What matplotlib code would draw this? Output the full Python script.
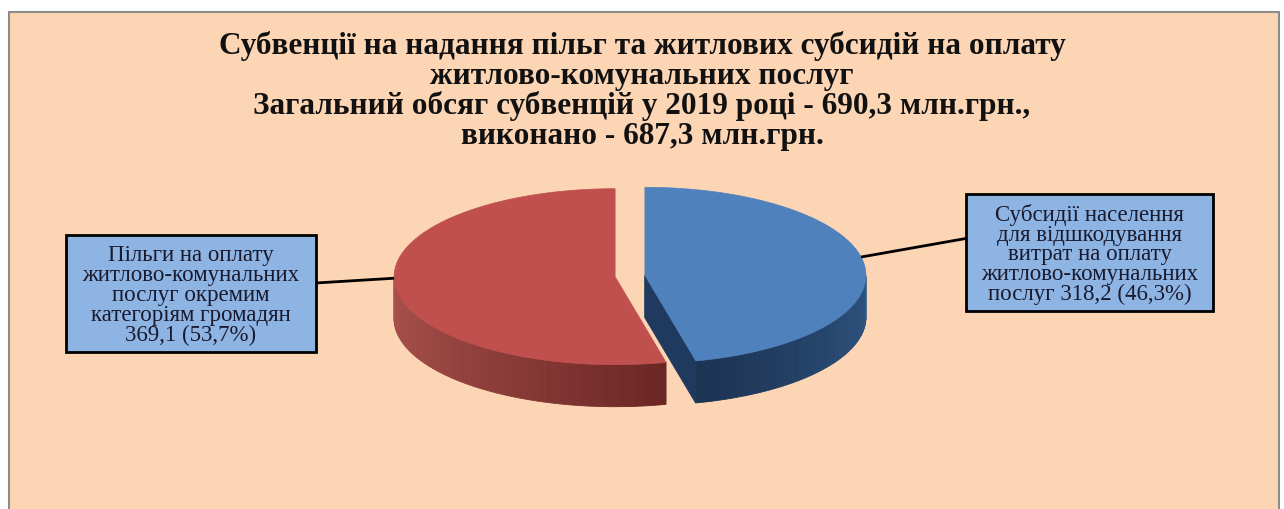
import matplotlib.pyplot as plt
import matplotlib.patches as mpatches
import numpy as np

# data
values = [318.2, 369.1]
names = ["Субсидії населення\nдля відшкодування\nвитрат на оплату\nжитлово-комунальних\nпослуг",
         "Пільги на оплату\nжитлово-комунальних\nпослуг окремим\nкатегоріям громадян\n"]
top_colors = ["#4F81BD", "#C0504D"]
title = ("Субвенції на надання пільг та житлових субсидій на оплату\n"
         "житлово-комунальних послуг\n"
         "Загальний обсяг субвенцій у 2019 році - 690,3 млн.грн.,\n"
         "виконано - 687,3 млн.грн.")

W, H = 1284, 510
fig = plt.figure(figsize=(W / 100, H / 100), dpi=100)
ax = fig.add_axes([0, 0, 1, 1])
ax.set_xlim(0, W)
ax.set_ylim(H, 0)
ax.axis("off")

# background panel
ax.add_patch(mpatches.Rectangle((9, 13), 1270, 500, facecolor="#FCD5B4",
                                edgecolor="#8c8c8c", lw=1.5, zorder=0))

ax.text(642, 91, title, ha="center", va="center", fontsize=22.5, fontweight="bold",
        family="Liberation Serif", linespacing=1.02, color="#111111")

# pseudo 3d pie
cx, cy, rx, ry, depth, explode = 630, 277, 221, 88, 42, 15
total = sum(values)
fracs = [v / total for v in values]

def pt(c, th, r=1.0, z=0.0):
    return (c[0] + r * rx * np.cos(th), c[1] - r * ry * np.sin(th) + z * depth)

start = np.pi / 2
slices = []
for f in fracs:
    a1 = start - 2 * np.pi * f
    mid = (start + a1) / 2
    c = (cx + explode * np.cos(mid), cy - explode * np.sin(mid) * ry / rx)
    slices.append((a1, start, c))
    start = a1

side_cols = [("#2E5583", "#1C3352"), ("#A9504C", "#6A2624")]

# side walls
for (a1, a2, c), (c0, c1) in zip(slices, side_cols):
    lo, hi = a1 % (2 * np.pi), a2 % (2 * np.pi)
    if hi <= lo:
        hi += 2 * np.pi
    th = np.linspace(lo, hi, 200)
    vis = th[np.sin(th) < 0]
    if len(vis) < 2:
        continue
    col0 = np.array(plt.matplotlib.colors.to_rgb(c0))
    col1 = np.array(plt.matplotlib.colors.to_rgb(c1))
    for i in range(len(vis) - 1):
        t = i / (len(vis) - 2)
        if hi - lo > np.pi:  # red: dark towards the cut on the right
            col = col0 + (col1 - col0) * t ** 1.3
        else:
            col = col0 + (col1 - col0) * (1 - t)
        p = [pt(c, vis[i]), pt(c, vis[i + 1]), pt(c, vis[i + 1], z=1), pt(c, vis[i], z=1)]
        ax.add_patch(mpatches.Polygon(p, closed=True, facecolor=col, edgecolor=col,
                                      lw=0.6, zorder=2))

# visible cut face of the blue slice
a1, a2, c = slices[0]
face = [c, pt(c, a1), pt(c, a1, z=1), (c[0], c[1] + depth)]
ax.add_patch(mpatches.Polygon(face, closed=True, facecolor="#1F3A5E",
                              edgecolor="#1F3A5E", zorder=2))

# top faces
for (a1, a2, c), col in zip(slices, top_colors):
    th = np.linspace(a1, a2, 200)
    p = [c] + [pt(c, t) for t in th]
    ax.add_patch(mpatches.Polygon(p, closed=True, facecolor=col, edgecolor=col,
                                  lw=0.5, zorder=3))

# label boxes
boxes = [(966, 195, 247, 117), (66, 236, 250, 117)]
anchors = [np.radians(12), np.radians(181)]
for v, f, name, (bx, by, bw, bh), ang, (a1, a2, c) in zip(values, fracs, names, boxes, anchors, slices):
    ax.add_patch(mpatches.Rectangle((bx, by), bw, bh, facecolor="#8EB4E3",
                                    edgecolor="black", lw=2, zorder=4))
    num = f"{v:.1f}".replace(".", ",")
    pct = f"{f * 100:.1f}".replace(".", ",")
    sep = "" if name.endswith("\n") else " "
    txt = name + sep + f"{num} ({pct}%)"
    ax.text(bx + bw / 2, by + bh / 2 + 1, txt, ha="center", va="center", fontsize=16.5,
            family="Liberation Serif", linespacing=0.93, color="#1a1a2e", zorder=5)
    px, py = pt(c, ang)
    ex = bx if bx > cx else bx + bw
    ax.plot([px, ex], [py, by + bh * (0.38 if bx > cx else 0.41)], color="black",
            lw=2, zorder=4, solid_capstyle="butt")

fig.savefig("out.png", dpi=100, facecolor="white")
